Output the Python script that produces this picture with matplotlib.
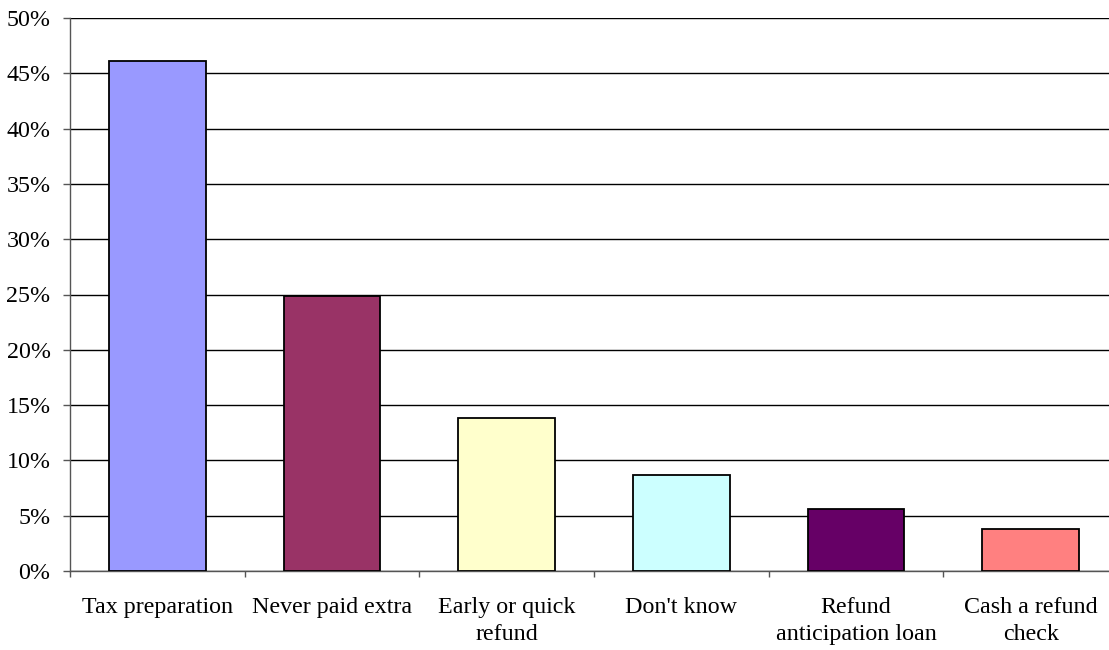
import matplotlib
matplotlib.use("Agg")
import matplotlib.pyplot as plt
from matplotlib.ticker import MultipleLocator, FuncFormatter, FixedLocator, NullFormatter

categories = ["Tax preparation", "Never paid extra", "Early or quick\nrefund",
              "Don't know", "Refund\nanticipation loan", "Cash a refund\ncheck"]
values = [46.1, 24.9, 13.8, 8.7, 5.6, 3.8]
colors = ["#9999FF", "#993366", "#FFFFCC", "#CCFFFF", "#660066", "#FF8080"]

plt.rcParams['font.family'] = ['Liberation Serif', 'DejaVu Serif']

fig = plt.figure(figsize=(11.09, 6.5), dpi=100)
ax = fig.add_axes([70/1109, 79/650, 1048/1109, 553/650])

x = list(range(len(categories)))
ax.bar(x, values, width=0.555, color=colors, edgecolor="black", linewidth=1.3, zorder=3)

ax.set_xlim(-0.5, len(categories) - 0.5)
ax.set_ylim(0, 50)
ax.yaxis.set_major_locator(MultipleLocator(5))
ax.yaxis.set_major_formatter(FuncFormatter(lambda v, p: f"{int(round(v))}%"))
ax.grid(axis="y", color="black", linewidth=1.0, zorder=0)

ax.set_xticks(x)
ax.set_xticklabels(categories, fontsize=17.3, linespacing=1.38)
ax.tick_params(axis="x", which="major", length=0, pad=19)
ax.xaxis.set_minor_locator(FixedLocator([i - 0.5 for i in range(len(categories) + 1)]))
ax.xaxis.set_minor_formatter(NullFormatter())
ax.tick_params(axis="x", which="minor", length=4.5, width=1, color="#555555")
ax.tick_params(axis="y", length=5, width=1, labelsize=17.3, color="#555555", pad=9)

for s in ["top", "right"]:
    ax.spines[s].set_visible(False)
ax.spines["left"].set_color("#555555")
ax.spines["bottom"].set_color("#555555")
ax.spines["left"].set_linewidth(1)
ax.spines["bottom"].set_linewidth(1)

fig.savefig("out.png", dpi=100)
